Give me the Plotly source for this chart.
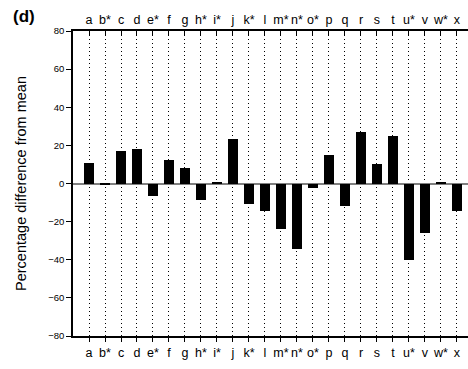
import plotly.graph_objects as go

categories = ["a", "b*", "c", "d", "e*", "f", "g", "h*", "i*", "j", "k*", "l",
              "m*", "n*", "o*", "p", "q", "r", "s", "t", "u*", "v", "w*", "x"]
values = [11.0, -0.6, 17.2, 18.1, -6.6, 12.5, 7.9, -8.7, 0.6, 23.5, -10.5, -14.4,
          -24.0, -34.1, -2.1, 14.7, -11.9, 27.0, 10.0, 24.9, -40.3, -26.0, 0.7, -14.4]
y_ticks = [-80, -60, -40, -20, 0, 20, 40, 60, 80]

pos = list(range(len(categories)))
font = "Liberation Sans, Arial, sans-serif"

fig = go.Figure()
fig.add_trace(go.Bar(x=pos, y=values, width=0.64, marker=dict(color="black", line=dict(width=0)),
                     showlegend=False))
fig.add_trace(go.Scatter(x=pos, y=[None]*len(pos), xaxis="x2", showlegend=False, hoverinfo="skip",
                         line=dict(color="black")))

xr = [-1, 23.69]
cat_font = dict(size=12.5, color="black", family=font)
fig.update_layout(
    width=468, height=369,
    margin=dict(l=73, r=0, t=31, b=33),
    paper_bgcolor="white", plot_bgcolor="white",
    font=dict(family=font, size=10, color="black"),
    bargap=0,
    xaxis=dict(range=xr, tickvals=pos, ticktext=categories, showline=True, linecolor="black",
               linewidth=1.5, ticks="outside", ticklen=4, tickcolor="black", tickwidth=1,
               showgrid=True, gridcolor="black", gridwidth=1, griddash="1px,3px",
               zeroline=False, tickfont=cat_font, tickangle=0, fixedrange=True),
    xaxis2=dict(range=xr, tickvals=pos, ticktext=categories, overlaying="x", side="top",
                showline=True, linecolor="black", linewidth=1.5, ticks="inside", ticklen=4,
                tickcolor="black", tickwidth=1, showgrid=False, zeroline=False,
                tickfont=cat_font, tickangle=0),
    yaxis=dict(range=[-80, 80], tickvals=y_ticks, showline=True, linecolor="black", linewidth=1.5,
               ticks="outside", ticklen=5, tickcolor="black", showgrid=False,
               zeroline=True, zerolinecolor="#808080", zerolinewidth=1.5,
               tickfont=dict(size=9.5, color="black", family=font),
               title=dict(text="Percentage difference from mean",
                          font=dict(size=14.5, color="black", family=font), standoff=18)),
    annotations=[dict(text="<b>(d)</b>", x=12, y=17, xref="paper", yref="paper", showarrow=False,
                      font=dict(size=17, color="black", family=font), xanchor="left", yanchor="middle")],
)
fig.layout.annotations[0].update(x=-73/395 + 11/395, y=1 + (31 - 17) / 305)
fig.write_html("out.html")
